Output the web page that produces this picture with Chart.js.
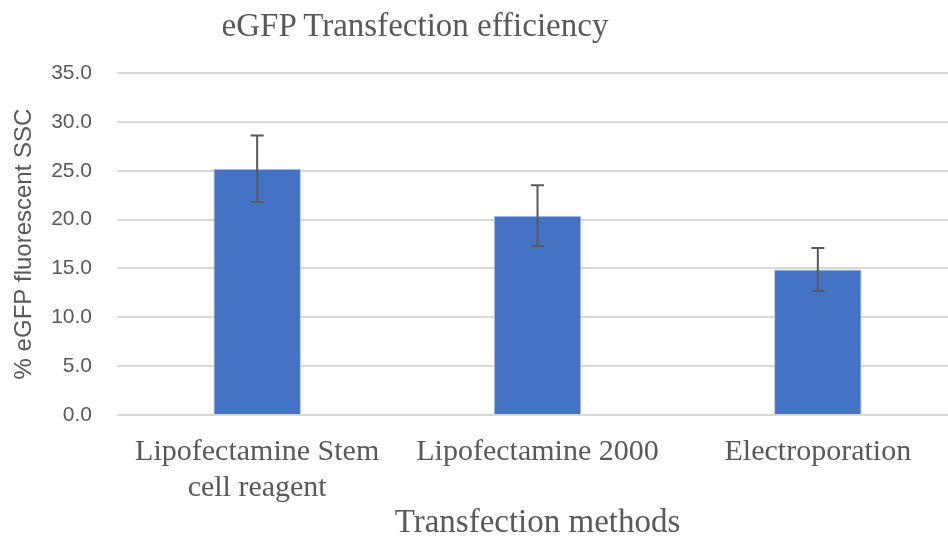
<!DOCTYPE html>
<html>
<head>
<meta charset="utf-8">
<script src="https://cdn.jsdelivr.net/npm/chart.js@4"></script>
<style>
  body { margin: 0; overflow: hidden; background: #fff; }
  #wrap { position: relative; width: 958px; height: 546px; }
  #title {
    position: absolute; left: 415px; top: 9px; transform: translateX(-50%);
    font-family: "Liberation Serif", serif; font-size: 33px; line-height: 1;
    color: #595959; white-space: nowrap;
  }
</style>
</head>
<body>
<div id="wrap">
  <div id="title">eGFP Transfection efficiency</div>
  <canvas id="efficiencyChart"></canvas>
</div>
<script>
const methods = [['Lipofectamine Stem', 'cell reagent'], 'Lipofectamine 2000', 'Electroporation'];
const efficiency = [25.2, 20.4, 14.9];
const errors = [3.4, 3.1, 2.2];
const yTicks = [0, 5, 10, 15, 20, 25, 30, 35];

// draws the error bars on top of each bar
const errorBars = {
    id: 'errorBars',
    afterDatasetsDraw(chart) {
        const ctx = chart.ctx;
        const y = chart.scales.y;
        const meta = chart.getDatasetMeta(0);
        ctx.save();
        ctx.strokeStyle = '#595959';
        ctx.lineWidth = 2;
        meta.data.forEach((bar, i) => {
            const top = y.getPixelForValue(efficiency[i] + errors[i]);
            const bottom = y.getPixelForValue(efficiency[i] - errors[i]);
            ctx.beginPath();
            ctx.moveTo(bar.x, top);
            ctx.lineTo(bar.x, bottom);
            ctx.moveTo(bar.x - 6.5, top);
            ctx.lineTo(bar.x + 6.5, top);
            ctx.moveTo(bar.x - 6.5, bottom);
            ctx.lineTo(bar.x + 6.5, bottom);
            ctx.stroke();
        });
        ctx.restore();
    }
};

new Chart(document.getElementById('efficiencyChart'), {
    type: 'bar',
    data: {
        labels: methods,
        datasets: [
            {
                label: 'eGFP',
                data: efficiency,
                backgroundColor: '#4472C4',
                borderColor: '#A9BEE6',
                borderWidth: 1,
                categoryPercentage: 1,
                barPercentage: 0.312,
            }
        ]
    },
    options: {
        responsive: true,
        maintainAspectRatio: false,
        animation: false,
        layout: { padding: { top: 73, right: 0, bottom: 0, left: 10 } },
        plugins: {
            legend: { display: false },
            tooltip: { enabled: false },
        },
        scales: {
            x: {
                afterFit(axis) {
                    axis.height = 131;
                    axis.paddingLeft = 0;
                    axis.paddingRight = 0;
                },
                grid: { display: false, drawTicks: false },
                border: { display: false },
                ticks: {
                    color: '#595959',
                    padding: 20,
                    maxRotation: 0,
                    autoSkip: false,
                    font: { family: 'Liberation Serif', size: 30, lineHeight: 1.17 },
                },
                title: {
                    display: true,
                    text: 'Transfection methods',
                    color: '#595959',
                    padding: { top: 0, bottom: 5 },
                    font: { family: 'Liberation Serif', size: 33, lineHeight: 1.1 },
                },
            },
            y: {
                min: 0,
                max: 35,
                afterBuildTicks(axis) {
                    axis.ticks = yTicks.map(v => ({ value: v }));
                },
                afterFit(axis) {
                    axis.width = 107;
                },
                grid: { color: '#d9d9d9', lineWidth: 2, drawTicks: false },
                border: { display: false },
                ticks: {
                    color: '#595959',
                    padding: 25,
                    font: { family: 'Liberation Sans', size: 21 },
                    callback: v => v.toFixed(1),
                },
                title: {
                    display: true,
                    text: '% eGFP fluorescent SSC',
                    color: '#595959',
                    padding: { top: 0, bottom: 12 },
                    font: { family: 'Liberation Sans', size: 24, lineHeight: 1.2 },
                },
            }
        }
    },
    plugins: [errorBars]
});
</script>
</body>
</html>
